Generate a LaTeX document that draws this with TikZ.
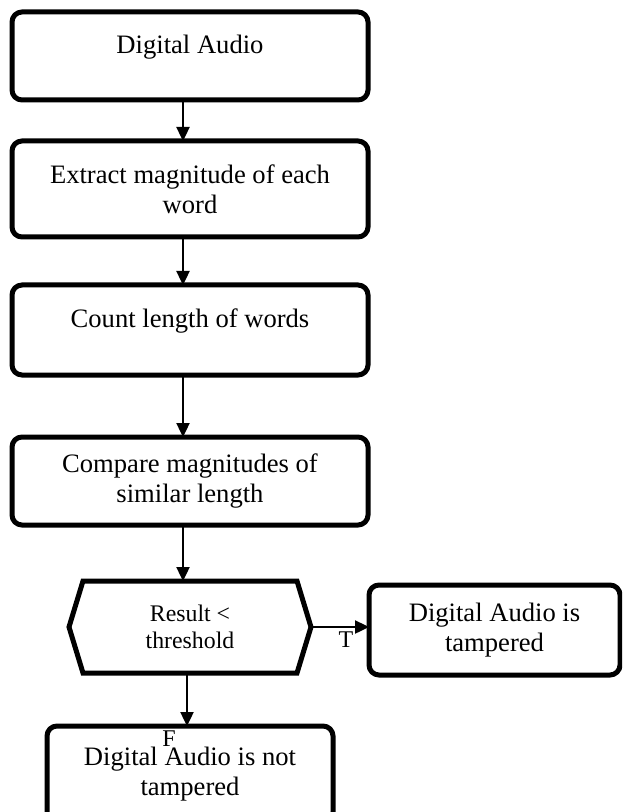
\documentclass[tikz,border=0pt]{standalone}
\usepackage{fontspec}
\setmainfont{Liberation Serif}
\usetikzlibrary{arrows.meta}
\usetikzlibrary{positioning}
\tikzset{
  box/.style = {draw, line width=2.5pt, rounded corners=5pt, align=center,
    inner sep=0pt, outer sep=0pt, minimum width=178pt,
    font=\fontsize{13.3}{15}\selectfont},
  decide/.style = {inner sep=0pt, outer sep=0pt, align=center,
    minimum width=121pt, minimum height=46pt,
    font=\fontsize{11.9}{13.5}\selectfont},
  branch/.style = {inner sep=0pt, font=\fontsize{12}{14}\selectfont},
  flow/.style = {-{Triangle[width=6.5pt,length=7pt]}, line width=1.2pt},
}

\begin{document}
\begin{tikzpicture}
    \clip (0pt,0pt) rectangle (311pt,-406pt);
    \node [box, minimum height=44pt, text height=9pt, text depth=11pt] (audio) at (95pt,-28pt) {Digital Audio};
    \node [box, minimum height=48pt, below = 20.5pt of audio] (extract) {Extract magnitude of each\\word};
    \node [box, minimum height=45pt, text height=9pt, text depth=12pt, below = 24pt of extract] (count) {Count length of words};
    \node [box, minimum height=44pt, below = 31pt of count] (compare) {Compare magnitudes of\\similar length};
    \node [decide, below = 28pt of compare] (result) {Result <\\threshold};
    \node [box, minimum width=125.5pt, minimum height=45pt, right = 29pt of result, yshift=-1.5pt] (tampered) {Digital Audio is\\tampered};
    \node [box, minimum width=143pt, minimum height=48pt, below = 26.5pt of result] (nottampered) {Digital Audio is not\\tampered};
    % hexagon round the decision
    \draw [line width=2.5pt] (result.west) -- ([xshift=7pt]result.north west) -- ([xshift=-7pt]result.north east)
      -- (result.east) -- ([xshift=-7pt]result.south east) -- ([xshift=7pt]result.south west) -- cycle;
    \draw [flow] ([xshift=-3.5pt]audio.south) -- ([xshift=-3.5pt]extract.north);
    \draw [flow] ([xshift=-3.5pt]extract.south) -- ([xshift=-3.5pt]count.north);
    \draw [flow] ([xshift=-3.5pt]count.south) -- ([xshift=-3.5pt]compare.north);
    \draw [flow] ([xshift=-3.5pt]compare.south) -- ([xshift=-3.5pt]compare.south |- result.north);
    \draw [flow] (result.east) -- (result.east -| tampered.west)
      node [branch, at end, xshift=-11.5pt, yshift=-6.5pt] (tlabel) {T};
    \draw [flow] ([xshift=-1.5pt]result.south) -- ([xshift=-1.5pt]result.south |- nottampered.north)
      node [branch, at end, xshift=-9pt, yshift=-6.5pt] (flabel) {F};
\end{tikzpicture}
\end{document}
